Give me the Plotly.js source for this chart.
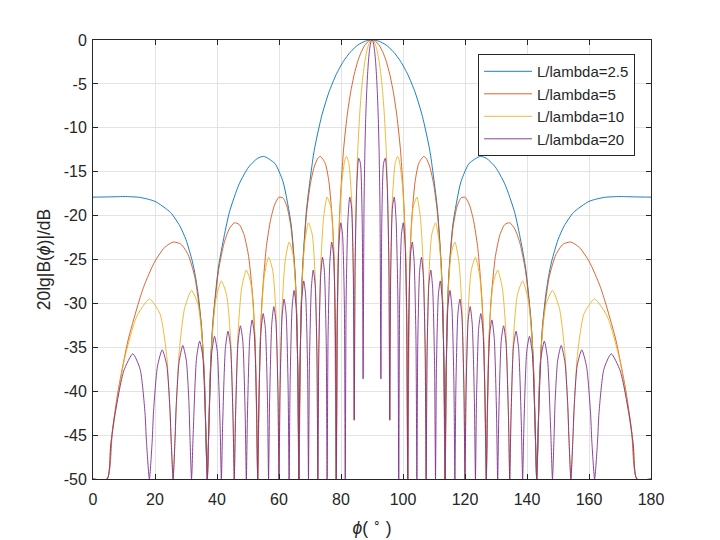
<!DOCTYPE html>
<html>
<head>
<meta charset="utf-8">
<script src="https://cdn.plot.ly/plotly-3.0.1.min.js"></script>
<style>
  html, body { margin: 0; padding: 0; background: #fff; }
  #chart { width: 720px; height: 540px; }
</style>
</head>
<body>
<div id="chart"></div>
<script>
// values: phi in degrees, level in dB (floor at -50)
const seriesNames = ["L/lambda=2.5", "L/lambda=5", "L/lambda=10", "L/lambda=20"];
const seriesColors = ["#0072BD", "#D95319", "#EDB120", "#7E2F8E"];

const phi25 = [0,5,10,15,20,25,28,30,32,33,34,35,36,36.5,36.87,37.25,38.0,38.74,40.54,43.95,47.16,50.21,53.13,55.11,58.67,61.31,63.90,65.17,65.67,66.17,66.42,66.67,67.17,67.67,68.90,71.34,73.74,76.11,78.46,80.79,83.11,85.41,87.71,90,
  92.29,94.59,96.89,99.21,101.54,103.89,106.26,108.66,111.10,112.33,112.83,113.33,113.58,113.83,114.33,114.83,116.10,118.69,121.33,124.89,126.87,129.79,132.84,136.05,139.46,141.26,142.0,142.75,143.13,143.5,144,145,146,147,148,150,152,155,160,165,170,175,180];
const db25 = [-17.90,-17.87,-17.83,-17.92,-18.38,-19.64,-21.17,-22.75,-25.15,-26.84,-29.18,-32.64,-39.1,-46.4,-50,-45.98,-36.36,-31.85,-25.72,-19.67,-16.39,-14.47,-13.46,-13.26,-14.06,-16.15,-20.97,-26.48,-30.73,-40.09,-50,-39.9,-30.21,-25.61,-19.23,-12.62,-8.69,-5.94,-3.92,-2.42,-1.33,-0.58,-0.14,0,
  -0.14,-0.58,-1.33,-2.42,-3.92,-5.94,-8.69,-12.62,-19.23,-25.61,-30.21,-39.9,-50,-40.09,-30.73,-26.48,-20.97,-16.15,-14.06,-13.26,-13.46,-14.47,-16.39,-19.67,-25.72,-31.85,-36.36,-45.98,-50,-46.4,-39.1,-32.64,-29.18,-26.84,-25.15,-22.75,-21.17,-19.64,-18.38,-17.92,-17.83,-17.87,-17.90];

const phi5 = [0,4.56,6.28,8.11,11.48,16.26,19.95,23.07,25.84,28.36,30.68,32.86,34.92,35.90,36.87,
  37.81,38.74,40.54,42.27,43.95,45.57,47.16,48.70,50.21,51.68,52.41,53.13,
  53.84,54.55,55.94,57.32,58.67,60.00,61.31,62.61,63.90,65.17,65.80,66.42,
  67.05,67.67,68.90,70.12,71.34,72.54,73.38,74.93,76.11,77.29,77.88,78.46,
  79.05,79.63,80.79,81.95,83.11,84.26,85.41,86.56,87.71,88.85,90,
  91.15,92.29,93.44,94.59,95.74,96.89,98.05,99.21,100.37,100.95,101.54,
  102.12,102.71,103.89,105.07,106.62,107.46,108.66,109.88,111.10,112.33,112.95,113.58,
  114.20,114.83,116.10,117.39,118.69,120.00,121.33,122.68,124.06,125.45,126.16,126.87,
  127.59,128.32,129.79,131.30,132.84,134.43,136.05,137.73,139.46,141.26,142.19,143.13,
  144.10,145.08,147.14,149.32,151.64,154.16,156.93,160.05,163.74,168.52,171.89,173.72,175.44,180];
const db5 = [-50,-50,-44.40,-39.95,-33.95,-28.19,-25.22,-23.64,-23.01,-23.25,-24.45,-27.03,-32.40,-38.20,-50,
  -37.98,-31.96,-26.16,-23.15,-21.51,-20.82,-21.01,-22.15,-24.67,-29.97,-35.74,-50,
  -35.45,-29.39,-23.51,-20.41,-18.68,-17.90,-17.99,-19.02,-21.41,-26.59,-32.29,-50,
  -31.85,-25.72,-19.67,-16.39,-14.47,-13.46,-13.26,-14.06,-16.15,-20.97,-26.48,-50,
  -25.61,-19.23,-12.62,-8.69,-5.94,-3.92,-2.42,-1.33,-0.58,-0.14,0,
  -0.14,-0.58,-1.33,-2.42,-3.92,-5.94,-8.69,-12.62,-19.23,-25.61,-50,
  -26.48,-20.97,-16.15,-14.06,-13.26,-13.46,-14.47,-16.39,-19.67,-25.72,-31.85,-50,
  -32.29,-26.59,-21.41,-19.02,-17.99,-17.90,-18.68,-20.41,-23.51,-29.39,-35.45,-50,
  -35.74,-29.97,-24.67,-22.15,-21.01,-20.82,-21.51,-23.15,-26.16,-31.96,-37.98,-50,
  -38.20,-32.40,-27.03,-24.45,-23.25,-23.01,-23.64,-25.22,-28.19,-33.95,-39.95,-44.40,-50,-50];

const phi10 = [0,4.56,5.73,9.94,14.07,18.19,21.57,23.79,25.18,25.84,
  26.49,27.75,29.54,31.79,33.90,35.41,36.39,36.87,
  37.35,38.28,39.65,41.41,43.11,44.36,45.17,45.57,
  45.97,46.77,47.93,49.46,50.95,52.05,52.77,53.13,
  53.49,54.20,55.25,56.63,57.99,59.00,59.67,60.00,
  60.33,60.99,61.97,63.26,64.53,65.48,66.11,66.42,
  66.73,67.36,68.28,69.51,70.73,71.64,72.24,72.54,
  72.84,73.44,74.34,75.52,76.70,77.58,78.17,78.46,
  78.76,79.34,80.21,81.37,81.78,82.53,83.40,83.97,84.26,
  84.55,84.84,85.41,85.99,86.56,87.13,87.71,88.28,88.85,89.43,90,
  90.57,91.15,91.72,92.29,92.87,93.44,94.01,94.59,95.16,95.45,95.74,
  96.03,96.60,97.47,98.22,98.63,99.79,100.66,101.24,101.54,
  101.83,102.42,103.30,104.48,105.66,106.56,107.16,107.46,
  107.76,108.36,109.27,110.49,111.72,112.64,113.27,113.58,
  113.89,114.52,115.47,116.74,118.03,119.01,119.67,120.00,
  120.33,121.00,122.01,123.37,124.75,125.80,126.51,126.87,
  127.23,127.95,129.05,130.54,132.07,133.23,134.03,134.43,
  134.83,135.64,136.89,138.59,140.35,141.72,142.65,143.13,
  143.61,144.59,146.10,148.21,150.46,152.25,153.51,154.16,
  154.82,156.21,158.43,161.81,165.93,170.06,174.27,175.44,180];
const db10 = [-50,-50,-46.01,-36.67,-31.52,-29.50,-31.15,-36.03,-45.19,-50,
  -45.10,-35.75,-30.57,-28.53,-30.17,-35.03,-44.18,-50,
  -44.07,-34.71,-29.51,-27.44,-29.05,-33.89,-43.03,-50,
  -42.91,-33.53,-28.31,-26.20,-27.77,-32.59,-41.71,-50,
  -41.57,-32.16,-26.91,-24.75,-26.27,-31.06,-40.15,-50,
  -39.95,-30.52,-25.22,-23.01,-24.45,-29.16,-38.20,-50,
  -37.98,-28.51,-23.15,-20.82,-22.15,-26.77,-35.74,-50,
  -35.45,-25.90,-20.41,-17.90,-19.02,-23.45,-32.29,-50,
  -31.85,-22.15,-16.39,-13.46,-13.26,-14.06,-18.02,-26.48,-43.3,
  -25.61,-19.23,-12.62,-8.69,-5.94,-3.92,-2.42,-1.33,-0.58,-0.14,0,
  -0.14,-0.58,-1.33,-2.42,-3.92,-5.94,-8.69,-12.62,-19.23,-25.61,-43.3,
  -26.48,-18.02,-14.06,-13.26,-13.46,-16.39,-22.15,-31.85,-50,
  -32.29,-23.45,-19.02,-17.90,-20.41,-25.90,-35.45,-50,
  -35.74,-26.77,-22.15,-20.82,-23.15,-28.51,-37.98,-50,
  -38.20,-29.16,-24.45,-23.01,-25.22,-30.52,-39.95,-50,
  -40.15,-31.06,-26.27,-24.75,-26.91,-32.16,-41.57,-50,
  -41.71,-32.59,-27.77,-26.20,-28.31,-33.53,-42.91,-50,
  -43.03,-33.89,-29.05,-27.44,-29.51,-34.71,-44.07,-50,
  -44.18,-35.03,-30.17,-28.53,-30.57,-35.75,-45.10,-50,
  -45.19,-36.03,-31.15,-29.50,-31.52,-36.67,-46.01,-50,-50];

const phi20 = [0,4.56,5.73,7.02,9.94,12.84,15.20,16.77,17.25,18.19,
  19.09,19.53,20.77,22.33,23.79,24.83,25.18,25.84,
  26.49,26.81,27.75,28.96,30.12,30.97,31.24,31.79,
  32.33,33.39,34.41,35.41,36.39,36.87,
  37.35,38.28,39.20,40.09,40.98,41.41,
  41.84,42.70,43.53,44.36,45.17,45.57,
  45.97,46.77,47.55,48.32,49.08,49.46,
  49.84,50.58,51.32,52.05,52.77,53.13,
  53.49,54.20,54.90,55.60,56.29,56.63,
  56.98,57.66,58.33,59.00,59.67,60.00,
  60.33,60.99,61.64,62.29,62.93,63.26,
  63.58,64.21,64.85,65.48,66.11,66.42,
  66.73,67.36,67.98,68.59,69.21,69.51,
  69.82,70.43,71.03,71.64,72.24,72.54,
  72.84,73.44,74.04,74.63,75.23,75.52,
  75.82,76.41,77.00,77.58,78.17,78.46,
  78.76,79.34,79.92,80.50,81.08,81.37,
  81.66,82.24,82.82,83.40,83.97,84.26,
  84.55,85.12,85.70,86.27,86.85,87.13,
  87.42,87.71,87.99,88.28,88.57,88.85,89.14,89.43,89.71,90,
  90.29,90.57,90.86,91.15,91.43,91.72,92.01,92.29,92.58,92.87,
  93.15,93.73,94.30,94.88,95.45,95.74,
  96.03,96.60,97.18,97.76,98.34,98.63,
  98.92,99.50,100.08,100.66,101.24,101.54,
  101.83,102.42,103.00,103.59,104.18,104.48,
  104.77,105.37,105.96,106.56,107.16,107.46,
  107.76,108.36,108.97,109.57,110.18,110.49,
  110.79,111.41,112.02,112.64,113.27,113.58,
  113.89,114.52,115.15,115.79,116.42,116.74,
  117.07,117.71,118.36,119.01,119.67,120.00,
  120.33,121.00,121.67,122.34,123.02,123.37,
  123.71,124.40,125.10,125.80,126.51,126.87,
  127.23,127.95,128.68,129.42,130.16,130.54,
  130.92,131.68,132.45,133.23,134.03,134.43,
  134.83,135.64,136.47,137.30,138.16,138.59,
  139.02,139.91,140.80,141.72,142.65,143.13,
  143.61,144.59,145.59,146.61,147.67,148.21,
  148.76,149.03,149.88,151.04,152.25,153.19,153.51,154.16,
  154.82,155.17,156.21,157.67,159.23,160.47,160.91,161.81,
  162.75,163.23,164.80,167.16,170.06,172.98,174.27,175.44,180];
const db20 = [-50,-50,-46.12,-42.76,-37.67,-35.74,-37.49,-42.44,-45.76,-50,
  -45.68,-42.32,-37.22,-35.29,-37.04,-41.99,-45.30,-50,
  -45.20,-41.83,-36.74,-34.80,-36.54,-41.49,-44.80,-50,
  -44.70,-36.24,-34.29,-36.02,-44.28,-50,
  -44.17,-35.70,-33.75,-35.48,-43.73,-50,
  -43.61,-35.13,-33.17,-34.89,-43.13,-50,
  -43.01,-34.52,-32.55,-34.26,-42.49,-50,
  -42.36,-33.86,-31.88,-33.58,-41.80,-50,
  -41.66,-33.15,-31.16,-32.85,-41.06,-50,
  -40.90,-32.38,-30.37,-32.04,-40.24,-50,
  -40.07,-31.52,-29.50,-31.16,-39.33,-50,
  -39.14,-30.57,-28.53,-30.17,-38.32,-50,
  -38.10,-29.51,-27.44,-29.05,-37.18,-50,
  -36.93,-28.31,-26.20,-27.77,-35.87,-50,
  -35.58,-26.91,-24.75,-26.27,-34.32,-50,
  -33.95,-25.22,-23.01,-24.45,-32.40,-50,
  -31.96,-23.15,-20.82,-22.15,-29.97,-50,
  -29.39,-20.41,-17.90,-19.02,-26.59,-43.3,
  -25.72,-16.39,-13.46,-14.06,-20.97,-38.6,
  -19.23,-12.62,-8.69,-5.94,-3.92,-2.42,-1.33,-0.58,-0.14,0,
  -0.14,-0.58,-1.33,-2.42,-3.92,-5.94,-8.69,-12.62,-19.23,-38.6,
  -20.97,-14.06,-13.46,-16.39,-25.72,-43.3,
  -26.59,-19.02,-17.90,-20.41,-29.39,-50,
  -29.97,-22.15,-20.82,-23.15,-31.96,-50,
  -32.40,-24.45,-23.01,-25.22,-33.95,-50,
  -34.32,-26.27,-24.75,-26.91,-35.58,-50,
  -35.87,-27.77,-26.20,-28.31,-36.93,-50,
  -37.18,-29.05,-27.44,-29.51,-38.10,-50,
  -38.32,-30.17,-28.53,-30.57,-39.14,-50,
  -39.33,-31.16,-29.50,-31.52,-40.07,-50,
  -40.24,-32.04,-30.37,-32.38,-40.90,-50,
  -41.06,-32.85,-31.16,-33.15,-41.66,-50,
  -41.80,-33.58,-31.88,-33.86,-42.36,-50,
  -42.49,-34.26,-32.55,-34.52,-43.01,-50,
  -43.13,-34.89,-33.17,-35.13,-43.61,-50,
  -43.73,-35.48,-33.75,-35.70,-44.17,-50,
  -44.28,-36.02,-34.29,-36.24,-44.70,-50,
  -44.80,-41.49,-36.54,-34.80,-36.74,-41.83,-45.20,-50,
  -45.30,-41.99,-37.04,-35.29,-37.22,-42.32,-45.68,-50,
  -45.76,-42.44,-37.49,-35.74,-37.67,-42.76,-46.12,-50,-50];

const xTicks = [0, 20, 40, 60, 80, 100, 120, 140, 160, 180];
const yTicks = [0, -5, -10, -15, -20, -25, -30, -35, -40, -45, -50];

const xs = [phi25, phi5, phi10, phi20];
const ys = [db25, db5, db10, db20];

const traces = seriesNames.map((name, i) => ({
  type: "scatter",
  mode: "lines",
  name,
  x: xs[i],
  y: ys[i],
  line: { color: seriesColors[i], width: 0.9, shape: "spline", smoothing: 0.6 }
}));

const ink = "#262626";
const fam = "Liberation Sans, Arial, sans-serif";
const axisBase = {
  showline: true, linecolor: ink, linewidth: 1, mirror: "ticks",
  ticks: "inside", ticklen: 5, tickcolor: ink, tickwidth: 1,
  showgrid: true, gridcolor: "#e3e3e3", gridwidth: 1, zeroline: false,
  tickfont: { family: fam, size: 16, color: ink },
  tickmode: "array"
};

const layout = {
  width: 720, height: 540,
  margin: { l: 93, r: 69, t: 40, b: 61 },
  paper_bgcolor: "#fff", plot_bgcolor: "#fff",
  font: { family: fam, size: 16, color: ink },
  showlegend: true,
  legend: {
    x: 0.69, y: 0.968, xanchor: "left", yanchor: "top",
    bgcolor: "#fff", bordercolor: ink, borderwidth: 1,
    font: { family: fam, size: 15, color: ink }, itemwidth: 48, tracegroupgap: 0
  },
  xaxis: {
    ...axisBase, range: [0, 180], tickvals: xTicks, ticktext: xTicks.map(String),
    ticklabelstandoff: 6,
    title: { text: "<i>ϕ</i>( <sup>∘</sup> )", font: { family: fam, size: 17.5, color: ink }, standoff: 14 }
  },
  yaxis: {
    ...axisBase, range: [-50, 0], tickvals: yTicks, ticktext: yTicks.map(String),
    ticklabelstandoff: 2,
    title: { text: "20lg|B(<i>ϕ</i>)|/dB", font: { family: fam, size: 17.5, color: ink }, standoff: 8 }
  }
};

Plotly.newPlot("chart", traces, layout, { displayModeBar: false, staticPlot: true });
</script>
</body>
</html>
